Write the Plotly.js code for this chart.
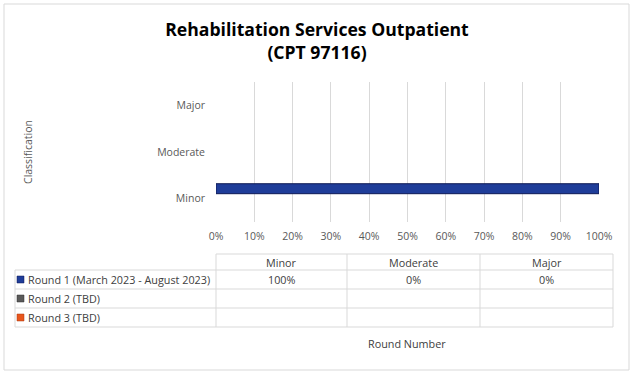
<!DOCTYPE html>
<html>
<head>
<meta charset="utf-8">
<script src="https://cdn.plot.ly/plotly-3.0.1.min.js"></script>
<style>html,body{margin:0;padding:0;background:#fff;}#chart{width:634px;height:375px;}</style>
</head>
<body>
<div id="chart"></div>
<script>
// ---- data ----
var categories = ['Minor', 'Moderate', 'Major'];
var seriesNames = ['Round 1 (March 2023 - August 2023)', 'Round 2 (TBD)', 'Round 3 (TBD)'];
var round1 = [100, 0, 0];
var round2 = [null, null, null];
var round3 = [null, null, null];
var xTicks = [0, 10, 20, 30, 40, 50, 60, 70, 80, 90, 100];
var xTickLabels = ['0%', '10%', '20%', '30%', '40%', '50%', '60%', '70%', '80%', '90%', '100%'];

var seriesValues = [round1, round2, round3];
var seriesColors = ['#1F3D99', '#5A5A5A', '#E8561C'];
var seriesLines = ['#0E1A55', '#333333', '#A83A10'];

// geometry helpers (pixel -> paper)
var W = 634, H = 375, L = 216, R = 35, T = 82, B = 153;
var pw = W - L - R, ph = H - T - B;
function px(x) { return (x - L) / pw; }
function py(y) { return (H - B - y) / ph; }

// traces: ordered so Round 1 is drawn on top within each group
var traces = [];
for (var i = seriesValues.length - 1; i >= 0; i--) {
  var vals = seriesValues[i];
  traces.push({
    type: 'bar', orientation: 'h',
    y: categories, x: vals, name: seriesNames[i],
    marker: {
      color: seriesColors[i],
      line: { color: seriesLines[i], width: vals.map(function (v) { return v ? 1 : 0; }) }
    },
    showlegend: false, hoverinfo: 'x+y'
  });
}

// data table drawn with shapes + annotations
var shapes = [], annotations = [];
var lineCol = '#D9D9D9';
var colX = [216, 347, 480, 613];
var tableLeft = 15;
var rowY = [254, 270, 289, 308, 327];
// outer chart border
shapes.push({ type: 'rect', xref: 'paper', yref: 'paper', x0: px(4), x1: px(629), y0: py(4), y1: py(370), line: { color: '#D9D9D9', width: 1 } });
// header row lines
shapes.push({ type: 'line', xref: 'paper', yref: 'paper', x0: px(colX[0]), x1: px(colX[3]), y0: py(rowY[0]), y1: py(rowY[0]), line: { color: lineCol, width: 1 } });
for (var r = 1; r < rowY.length; r++) {
  shapes.push({ type: 'line', xref: 'paper', yref: 'paper', x0: px(tableLeft), x1: px(colX[3]), y0: py(rowY[r]), y1: py(rowY[r]), line: { color: lineCol, width: 1 } });
}
for (var c = 0; c < colX.length; c++) {
  shapes.push({ type: 'line', xref: 'paper', yref: 'paper', x0: px(colX[c]), x1: px(colX[c]), y0: py(rowY[0]), y1: py(rowY[4]), line: { color: lineCol, width: 1 } });
}
shapes.push({ type: 'line', xref: 'paper', yref: 'paper', x0: px(tableLeft), x1: px(tableLeft), y0: py(rowY[1]), y1: py(rowY[4]), line: { color: lineCol, width: 1 } });

var txtFont = { family: 'Open Sans, sans-serif', size: 10.8, color: '#404040' };
// header labels
for (var k = 0; k < categories.length; k++) {
  annotations.push({ xref: 'paper', yref: 'paper', x: px((colX[k] + colX[k + 1]) / 2), y: py((rowY[0] + rowY[1]) / 2), text: categories[k], showarrow: false, font: txtFont, xanchor: 'center', yanchor: 'middle' });
}
// rows
for (var s = 0; s < seriesNames.length; s++) {
  var yc = (rowY[s + 1] + rowY[s + 2]) / 2;
  shapes.push({ type: 'rect', xref: 'paper', yref: 'paper', x0: px(17), x1: px(24), y0: py(yc - 3.5), y1: py(yc + 3.5), fillcolor: seriesColors[s], line: { color: seriesLines[s], width: 0.5 } });
  annotations.push({ xref: 'paper', yref: 'paper', x: px(26), y: py(yc), text: seriesNames[s], showarrow: false, font: txtFont, xanchor: 'left', yanchor: 'middle' });
  for (var k2 = 0; k2 < categories.length; k2++) {
    var v = seriesValues[s][k2];
    if (v !== null && v !== undefined) {
      annotations.push({ xref: 'paper', yref: 'paper', x: px((colX[k2] + colX[k2 + 1]) / 2), y: py(yc), text: v + '%', showarrow: false, font: txtFont, xanchor: 'center', yanchor: 'middle' });
    }
  }
}
// x axis title (below table)
annotations.push({ xref: 'paper', yref: 'paper', x: px(407), y: py(343), text: 'Round Number', showarrow: false, font: txtFont, xanchor: 'center', yanchor: 'middle' });

var layout = {
  width: W, height: H,
  margin: { l: L, r: R, t: T, b: B, pad: 0 },
  paper_bgcolor: '#ffffff', plot_bgcolor: '#ffffff',
  title: {
    text: '<b>Rehabilitation Services Outpatient<br>(CPT 97116)</b>',
    font: { family: 'Open Sans, sans-serif', size: 17.6, color: '#000000', lineposition: 'none' },
    x: 0.5, xref: 'container', xanchor: 'center',
    y: 0.905, yref: 'container', yanchor: 'top'
  },
  barmode: 'group', bargap: 0.36, bargroupgap: 0,
  xaxis: {
    range: [0, 100], tickvals: xTicks, ticktext: xTickLabels,
    showgrid: true, gridcolor: '#D9D9D9', gridwidth: 1,
    zeroline: false, showline: false, ticks: '',
    tickfont: { family: 'Open Sans, sans-serif', size: 10.5, color: '#595959' },
    ticklabelstandoff: 6, fixedrange: true
  },
  yaxis: {
    categoryorder: 'array', categoryarray: categories,
    showgrid: false, zeroline: false, showline: false, ticks: '',
    tickfont: { family: 'Open Sans, sans-serif', size: 10.5, color: '#595959' },
    ticklabelstandoff: 10,
    title: { text: 'Classification', font: { family: 'Open Sans, sans-serif', size: 10.5, color: '#595959' }, standoff: 122 },
    fixedrange: true
  },
  shapes: shapes,
  annotations: annotations,
  showlegend: false
};

Plotly.newPlot('chart', traces, layout, { displayModeBar: false, staticPlot: true });
</script>
</body>
</html>
